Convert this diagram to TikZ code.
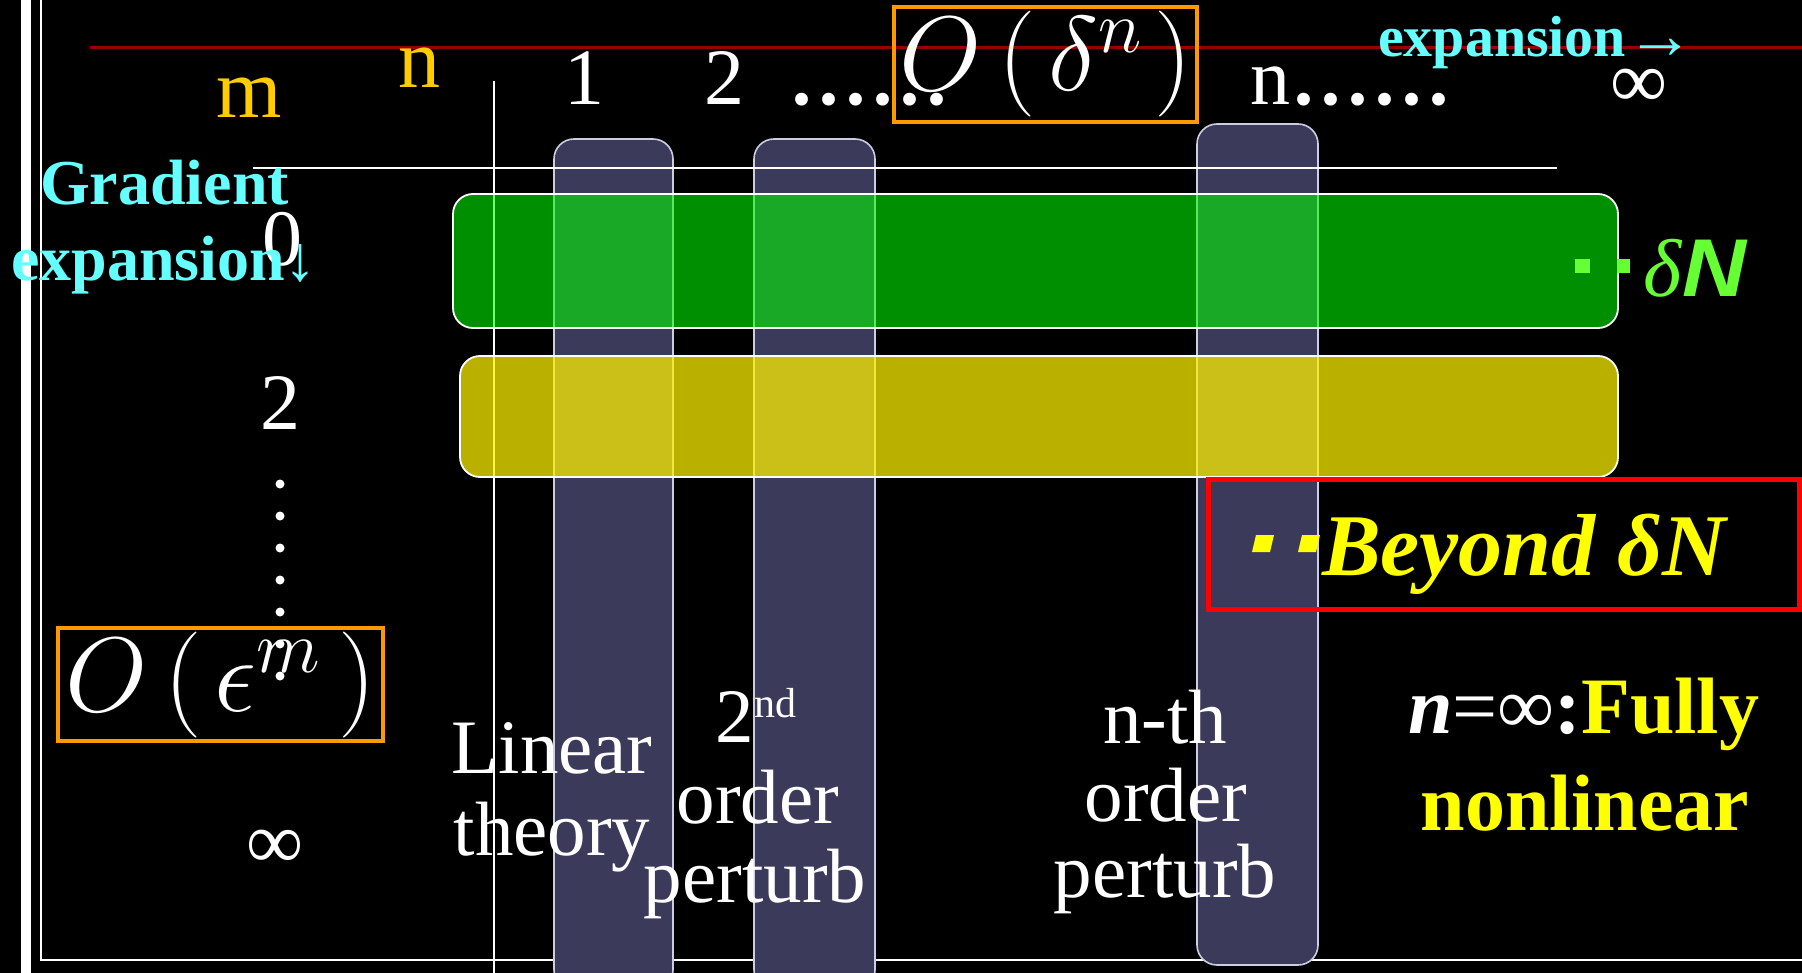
\RequirePackage{fix-cm}
\documentclass[tikz,border=0pt]{standalone}
\usepackage{fontspec}
\setmainfont{Liberation Serif}
\newfontfamily\sansf{Liberation Sans}
\definecolor{colfill}{RGB}{60,58,90}
\definecolor{colline}{RGB}{205,205,225}
\definecolor{redline}{RGB}{150,0,0}
\definecolor{orangeC}{RGB}{255,153,0}
\definecolor{goldC}{RGB}{255,204,0}
\definecolor{cyanC}{RGB}{102,255,255}
\definecolor{greenC}{RGB}{102,255,51}
\definecolor{yelC}{RGB}{255,255,0}
\newcommand\setfs[1]{\fontsize{#1}{#1}\selectfont}
\begin{document}
\begin{tikzpicture}[x=0.5pt,y=-0.5pt,
  lbl/.style={inner sep=0pt, outer sep=0pt, text=white, anchor=base},
  colbar/.style={fill=colfill, draw=colline, line width=0.8pt, rounded corners=10pt},
  band/.style={draw=white, line width=0.9pt, rounded corners=10pt},
  obox/.style={draw=orangeC, line width=1.8pt, inner sep=0pt, text=white, font=\setfs{53}},
  thinw/.style={draw=white, line width=1pt}]
\useasboundingbox (0,0) rectangle (1802,973);
\fill[black] (0,0) rectangle (1802,973);
% frame
\fill[white] (21,0) rectangle (31,973);
\draw[thinw] (41,0) -- (41,960) -- (1802,960);
% red rule
\draw[redline, line width=1.5pt] (90,48) -- (1802,48);
% perturbation-order columns
\draw[colbar] (554,139) rectangle (673,990);
\draw[colbar] (754,139) rectangle (875,990);
\draw[colbar] (1197,124) rectangle (1318,965);
% axes lines
\draw[thinw] (494,81) -- (494,973);
\draw[thinw] (253,168) -- (1557,168);
% gradient-order bands
\draw[band, fill=green, fill opacity=0.56] (453,194) rectangle (1618,328);
\draw[band, fill=yellow, fill opacity=0.73] (460,356) rectangle (1618,477);
% beyond box
\draw[red, line width=2.5pt] (1208,479) rectangle (1799,609);
% markers
\fill[greenC] (1575,259) rectangle (1590,273);
\fill[greenC] (1617,259) rectangle (1630,273);
\fill[yelC] (1256,535) -- (1274,535) -- (1270,552) -- (1252,552) -- cycle;
\fill[yelC] (1302,535) -- (1320,535) -- (1316,552) -- (1298,552) -- cycle;
% vertical dots
\foreach \k in {0,...,6} \fill[white] (280,484+32*\k) circle (2.25pt);
% order boxes
\node[obox, minimum width=151.5pt, minimum height=57.5pt] (odn) at (1045.5,64.5) {\raisebox{-3pt}{$O\,(\mkern2mu\delta^{n}\mkern2mu)$}};
\node[obox, minimum width=162.5pt, minimum height=56.5pt] (oem) at (220.5,684.5) {\raisebox{-2pt}{$O\,(\mkern2mu\epsilon^{m}\,)$}};
% header labels
\node[lbl, text=goldC, font=\setfs{42}] (mlab) at (249,118) {m};
\node[lbl, text=goldC, font=\setfs{42}] (nlab) at (419,88) {n};
\node[lbl, font=\setfs{40}] (c1) at (584,105) {1};
\node[lbl, font=\setfs{40}] (c2) at (724,105) {2};
\node[lbl, font=\setfs{54}, anchor=base west] (cdots) at (788,105) {......};
\node[lbl, font=\setfs{40}, anchor=base west] (cn) at (1250,105) {n{\setfs{54}......}};
\node[lbl, font=\setfs{40}] (cinf) at (1639,108) {∞};
\node[lbl, text=cyanC, font=\setfs{29}\bfseries, anchor=base west] (hexp) at (1378,57) {expansion\raisebox{-1pt}{\setfs{34}\mdseries→}};
% row labels
\node[lbl, font=\setfs{40}] (r0) at (282,265) {0};
\node[lbl, text=cyanC, font=\setfs{32}\bfseries, anchor=base west] (grad1) at (40,205) {Gradient};
\node[lbl, text=cyanC, font=\setfs{32}\bfseries, anchor=base west] (grad2) at (11,280) {expansion↓};
\node[lbl, font=\setfs{40}] (r2) at (280,429) {2};
\node[lbl, font=\setfs{40}] (rinf) at (275,868) {∞};
% column captions
\node[lbl, font=\setfs{38.5}] (lin1) at (552,773) {Linear};
\node[lbl, font=\setfs{38.5}] (lin2) at (552,855) {theory};
\node[lbl, font=\setfs{38.5}] (sec1) at (756,742) {2\raisebox{12.5pt}{\setfs{21}nd}};
\node[lbl, font=\setfs{38.5}] (sec2) at (758,823) {order};
\node[lbl, font=\setfs{38.5}] (sec3) at (755,902) {perturb};
\node[lbl, font=\setfs{38.5}] (nth1) at (1165,743) {n-th};
\node[lbl, font=\setfs{38.5}] (nth2) at (1166,821) {order};
\node[lbl, font=\setfs{38.5}] (nth3) at (1165,897) {perturb};
% right labels
\node[lbl, text=greenC, font=\setfs{41}, anchor=base west] (dN) at (1643,296) {\textit{δ}{\sansf\bfseries\itshape\scalebox{1.08}[1]{N}}};
\node[lbl, text=yelC, font=\setfs{44}\bfseries\itshape, anchor=base west] (beyond) at (1322,575) {Beyond δN};
\node[lbl, font=\setfs{40}, anchor=base west] (full1) at (1408,733) {\textbf{\textit{n}}=∞\textbf{:}\textcolor{yelC}{\textbf{Fully}}};
\node[lbl, text=yelC, font=\setfs{40}\bfseries] (full2) at (1585,830) {nonlinear};
\end{tikzpicture}
\end{document}
